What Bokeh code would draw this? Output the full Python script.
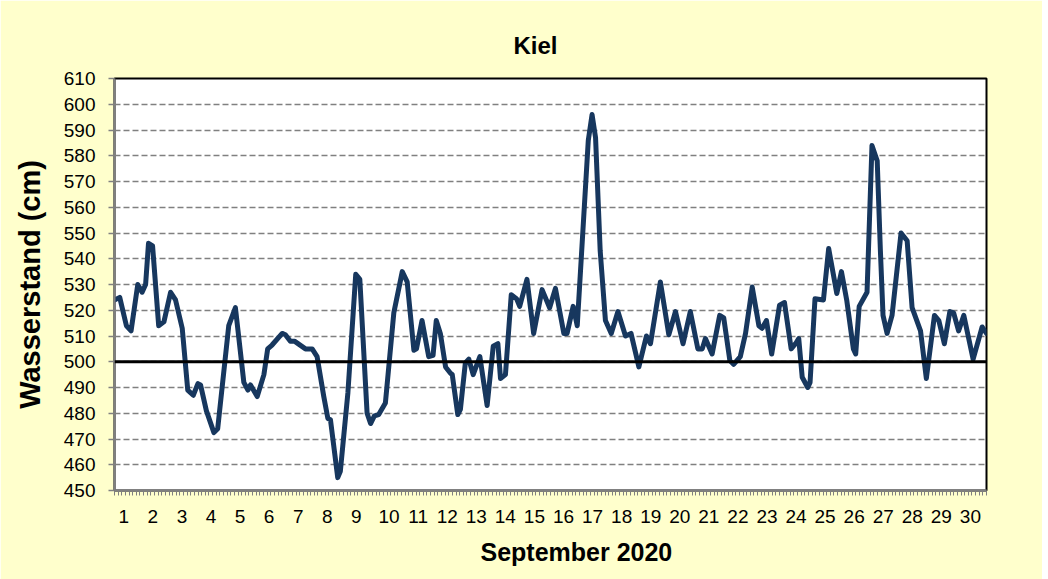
from bokeh.plotting import figure
from bokeh.models import Range1d, FixedTicker, Span, Title
from bokeh.embed import file_html
from bokeh.resources import INLINE

# ---- data ----
# time in days since 1 September 2020 00:00
day = [0.00, 0.18, 0.41, 0.57, 0.80, 0.95, 1.07, 1.17, 1.31, 1.52, 1.70, 1.93, 2.10, 2.33,
       2.52, 2.71, 2.87, 2.96, 3.16, 3.42, 3.55, 3.93, 4.16, 4.45, 4.59, 4.68, 4.91, 5.14,
       5.27, 5.42, 5.77, 5.88, 6.05, 6.19, 6.57, 6.80, 6.97, 7.20, 7.34, 7.43, 7.68, 7.77,
       8.03, 8.30, 8.44, 8.69, 8.81, 8.94, 9.09, 9.32, 9.61, 9.90, 10.07, 10.30, 10.39,
       10.58, 10.81, 10.96, 11.07, 11.21, 11.39, 11.56, 11.62, 11.81, 11.90, 12.07, 12.19,
       12.34, 12.57, 12.82, 13.03, 13.19, 13.28, 13.45, 13.65, 13.83, 13.94, 14.19, 14.42,
       14.71, 14.97, 15.17, 15.46, 15.57, 15.78, 15.92, 16.30, 16.43, 16.55, 16.71, 16.89,
       17.09, 17.32, 17.58, 17.77, 18.04, 18.30, 18.44, 18.78, 19.07, 19.30, 19.56, 19.81,
       20.07, 20.22, 20.33, 20.56, 20.82, 20.96, 21.17, 21.30, 21.53, 21.71, 21.94, 22.17,
       22.28, 22.43, 22.61, 22.88, 23.05, 23.28, 23.43, 23.54, 23.66, 23.85, 23.93, 24.10,
       24.39, 24.57, 24.85, 25.01, 25.19, 25.42, 25.50, 25.62, 25.89, 26.06, 26.24, 26.35,
       26.44, 26.58, 26.75, 27.06, 27.27, 27.44, 27.73, 27.93, 28.21, 28.36, 28.55, 28.74,
       28.87, 29.04, 29.22, 29.54, 29.85, 30.00]
level = [524, 525, 514, 512, 530, 527, 530, 546, 545, 514, 515.5, 527, 524, 513,
         489, 487, 491.5, 491, 481, 472.5, 474, 514, 521, 492, 489, 491, 486.5, 495,
         505, 506.5, 511, 510.5, 508, 508, 505, 505, 502, 486.5, 478, 477.5, 455, 457.5,
         488, 534, 532, 480, 476, 479, 479.5, 484, 519, 535, 531, 504.5, 505,
         516, 502, 502.5, 516, 511, 498, 495.5, 495, 479.5, 481.5, 499.5, 501,
         495, 502, 483, 506, 507, 493.5, 495, 526, 524.5, 521.5, 532, 511,
         528, 521, 528.5, 511, 511, 521.5, 514, 586, 596, 587, 543, 516,
         511, 519.5, 510, 511, 498, 510, 507, 531, 510.5, 519.5, 507, 519.5,
         505, 505, 509, 503, 518, 517, 500.5, 499, 502, 511, 529, 514,
         513, 516, 503, 522, 523, 505, 507, 509, 494, 490, 492, 524.5,
         524, 544, 526.5, 535, 524, 505, 503, 521.5, 527, 584, 578, 543,
         518, 511, 518, 550, 547, 521, 512, 493.5, 518, 516, 507, 519.5,
         519, 512, 518, 501, 513.5, 511]

day_labels = [str(d) for d in range(1, 31)]
level_ticks = list(range(450, 611, 10))
reference_level = 500

NAVY = "#17375E"
GRAY = "#808080"
FONT = "Liberation Sans"

p = figure(width=1042, height=579, output_backend="svg", toolbar_location=None,
           x_range=Range1d(0, 30), y_range=Range1d(450, 610),
           min_border_left=114, min_border_right=56, min_border_top=78, min_border_bottom=89)
p.border_fill_color = "#FFFFCC"
p.background_fill_color = "white"
p.outline_line_color = "black"
p.outline_line_width = 2

# title
p.title.text = "Kiel"
p.title.text_font = FONT
p.title.text_font_size = "24px"
p.title.text_font_style = "bold"
p.title.text_color = "black"
p.title.align = "left"
p.title.offset = 399
p.title.standoff = 40

# grid
p.xgrid.visible = False
p.ygrid.ticker = FixedTicker(ticks=level_ticks)
p.ygrid.grid_line_color = GRAY
p.ygrid.grid_line_dash = "6 3"
p.ygrid.grid_line_width = 1.5

# y axis
ya = p.yaxis[0]
ya.ticker = FixedTicker(ticks=level_ticks, minor_ticks=[])
ya.axis_line_color = GRAY
ya.axis_line_width = 2
ya.major_tick_line_color = GRAY
ya.major_tick_line_width = 1.5
ya.major_tick_out = 6
ya.major_tick_in = 0
ya.major_label_standoff = 13
ya.major_label_text_font = FONT
ya.major_label_text_font_size = "19px"
ya.major_label_text_color = "black"
ya.axis_label = "Wasserstand (cm)"
ya.axis_label_text_font = FONT
ya.axis_label_text_font_size = "29px"
ya.axis_label_text_font_style = "bold"
ya.axis_label_text_color = "black"
ya.axis_label_standoff = 15

# x axis: labels sit just right of each day's start
frame_px_per_day = 872 / 30.0
label_pos = [round(i + ((9.3 if len(s) == 1 else 13.0) / frame_px_per_day), 4)
             for i, s in enumerate(day_labels)]
xa = p.xaxis[0]
xa.ticker = FixedTicker(ticks=label_pos, minor_ticks=[k / 8 for k in range(0, 241)])
xa.major_label_overrides = {pos: s for pos, s in zip(label_pos, day_labels)}
xa.axis_line_color = GRAY
xa.axis_line_width = 2.5
xa.major_tick_out = 0
xa.major_tick_in = 0
xa.minor_tick_out = 5
xa.minor_tick_in = 0
xa.minor_tick_line_color = GRAY
xa.minor_tick_line_width = 1
xa.major_label_standoff = 14
xa.major_label_text_font = FONT
xa.major_label_text_font_size = "19px"
xa.major_label_text_color = "black"

# x axis title, placed below the axis
p.add_layout(Title(text="September  2020", align="left", offset=366, vertical_align="bottom",
                   standoff=20, text_font=FONT, text_font_size="25px",
                   text_font_style="bold", text_color="black"), "below")

# reference line at 500 cm
p.add_layout(Span(location=reference_level, dimension="width", line_color="black", line_width=3))

# water level
p.line(day, level, line_color=NAVY, line_width=5, line_join="round", line_cap="round")

open("out.html", "w").write(file_html(p, INLINE))
